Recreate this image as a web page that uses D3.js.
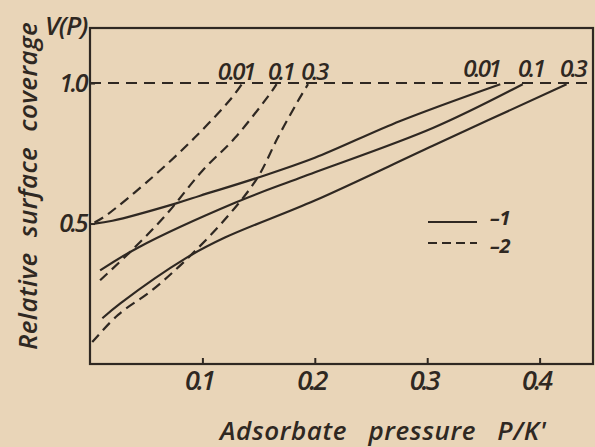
<!DOCTYPE html>
<html>
<head>
<meta charset="utf-8">
<script src="https://cdn.jsdelivr.net/npm/d3@7"></script>
<style>
  html, body { margin: 0; padding: 0; background: #e9d5b8; }
  svg { display: block; }
  text { font-family: "Open Sans", "DejaVu Sans", sans-serif; font-style: italic; font-weight: 600; fill: #2f2822; }
</style>
</head>
<body>
<div id="chart"></div>
<script>
// x values: adsorbate pressure P/K', y values: relative surface coverage V(P)
const pressureTicks = [0.1, 0.2, 0.3, 0.4];
const coverageTicks = [0.5, 1.0];
const paramLabels = ["0.01", "0.1", "0.3"];

// curves 1 (solid), parameter 0.01 / 0.1 / 0.3
const solid001 = [[0.004, 0.500], [0.02, 0.510], [0.076, 0.571], [0.098, 0.599], [0.149, 0.663], [0.200, 0.734], [0.276, 0.865], [0.365, 0.996]];
const solid01  = [[0.009, 0.333], [0.043, 0.415], [0.129, 0.574], [0.187, 0.663], [0.305, 0.840], [0.385, 0.996]];
const solid03  = [[0.011, 0.163], [0.027, 0.216], [0.085, 0.376], [0.120, 0.450], [0.200, 0.582], [0.305, 0.777], [0.424, 0.996]];

// curves 2 (dashed), parameter 0.01 / 0.1 / 0.3
const dashed001 = [[0.004, 0.504], [0.013, 0.525], [0.055, 0.663], [0.093, 0.805], [0.126, 0.947], [0.135, 0.996]];
const dashed01  = [[0.009, 0.298], [0.036, 0.400], [0.067, 0.528], [0.100, 0.688], [0.129, 0.805], [0.162, 0.972], [0.166, 0.996]];
const dashed03  = [[0.002, 0.078], [0.025, 0.175], [0.055, 0.262], [0.085, 0.369], [0.123, 0.528], [0.149, 0.663], [0.167, 0.805], [0.185, 0.936], [0.194, 0.996]];

const width = 595, height = 447;
const ink = "#2f2822";

const svg = d3.select("#chart").append("svg")
  .attr("width", width)
  .attr("height", height);

const xMax = 0.4475, yMax = 1.196;
const x = d3.scaleLinear().domain([0, xMax]).range([90, 593]);
const y = d3.scaleLinear().domain([0, yMax]).range([364, 28]);

// frame
svg.append("rect")
  .attr("x", x(0)).attr("y", y(yMax))
  .attr("width", x(xMax) - x(0)).attr("height", y(0) - y(yMax))
  .attr("fill", "none").attr("stroke", ink).attr("stroke-width", 2.2);

// bottom axis
const xAxis = d3.axisBottom(x).tickValues(pressureTicks).tickSize(-6).tickFormat(d3.format(".1f"));
const gx = svg.append("g").attr("transform", "translate(0," + y(0) + ")").call(xAxis);
gx.select(".domain").remove();
gx.selectAll("line").attr("stroke", ink).attr("stroke-width", 2);
gx.selectAll("text").attr("dy", "0.85em").attr("dx", "-4").style("font-size", "27px").style("letter-spacing", "-3px").attr("fill", ink);

// left axis
const yAxis = d3.axisLeft(y).tickValues(coverageTicks).tickSize(-5).tickPadding(4).tickFormat(d3.format(".1f"));
const gy = svg.append("g").attr("transform", "translate(" + x(0) + ",0)").call(yAxis);
gy.select(".domain").remove();
gy.selectAll("line").attr("stroke", ink).attr("stroke-width", 2);
gy.selectAll("text").style("font-size", "25px").style("letter-spacing", "-2.5px").attr("fill", ink);

// full coverage reference line
svg.append("line")
  .attr("x1", x(0)).attr("x2", x(xMax))
  .attr("y1", y(1.0)).attr("y2", y(1.0))
  .attr("stroke", ink).attr("stroke-width", 2).attr("stroke-dasharray", "11,7");

const line = d3.line()
  .x(function(d) { return x(d[0]); })
  .y(function(d) { return y(d[1]); })
  .curve(d3.curveCatmullRom);

const solidCurves = [solid001, solid01, solid03];
const dashedCurves = [dashed001, dashed01, dashed03];

solidCurves.forEach(function(c) {
  svg.append("path").datum(c)
    .attr("d", line)
    .attr("fill", "none").attr("stroke", ink).attr("stroke-width", 2.2);
});

dashedCurves.forEach(function(c) {
  svg.append("path").datum(c)
    .attr("d", line)
    .attr("fill", "none").attr("stroke", ink).attr("stroke-width", 2.2)
    .attr("stroke-dasharray", "10,6");
});

// parameter labels at the curve ends
const dashedLabelDx = [-6, 4, 6];
const solidLabelDx = [-19, 8, 6];
dashedCurves.forEach(function(c, i) {
  const end = c[c.length - 1];
  svg.append("text")
    .attr("x", x(end[0]) + dashedLabelDx[i]).attr("y", y(1.0) - 3)
    .attr("text-anchor", "middle").style("font-size", "24px").style("letter-spacing", "-2.5px")
    .text(paramLabels[i]);
});
solidCurves.forEach(function(c, i) {
  const end = c[c.length - 1];
  svg.append("text")
    .attr("x", x(end[0]) + solidLabelDx[i]).attr("y", y(1.0) - 6)
    .attr("text-anchor", "middle").style("font-size", "24px").style("letter-spacing", "-2.5px")
    .text(paramLabels[i]);
});

// legend
const legend = svg.append("g").attr("transform", "translate(428,222)");
legend.append("line").attr("x1", 0).attr("x2", 49).attr("y1", 0).attr("y2", 0)
  .attr("stroke", ink).attr("stroke-width", 2.2);
legend.append("line").attr("x1", 0).attr("x2", 49).attr("y1", 21).attr("y2", 21)
  .attr("stroke", ink).attr("stroke-width", 2.2).attr("stroke-dasharray", "9,5");
legend.append("text").attr("x", 62).attr("y", 3).style("font-size", "20px").style("font-weight", "bold").text("–1");
legend.append("text").attr("x", 62).attr("y", 31).style("font-size", "20px").style("font-weight", "bold").text("–2");

// axis titles
svg.append("text")
  .attr("x", 220).attr("y", 440)
  .style("font-size", "26px").style("letter-spacing", "0.6px").style("word-spacing", "14px")
  .text("Adsorbate pressure P/K'");

svg.append("text")
  .attr("transform", "translate(37,350) rotate(-90)")
  .style("font-size", "26px").style("letter-spacing", "0.4px").style("word-spacing", "8px")
  .text("Relative surface coverage");

svg.append("text")
  .attr("x", 45).attr("y", 35)
  .style("font-size", "26px").style("letter-spacing", "-1px")
  .text("V(P)");
</script>
</body>
</html>
